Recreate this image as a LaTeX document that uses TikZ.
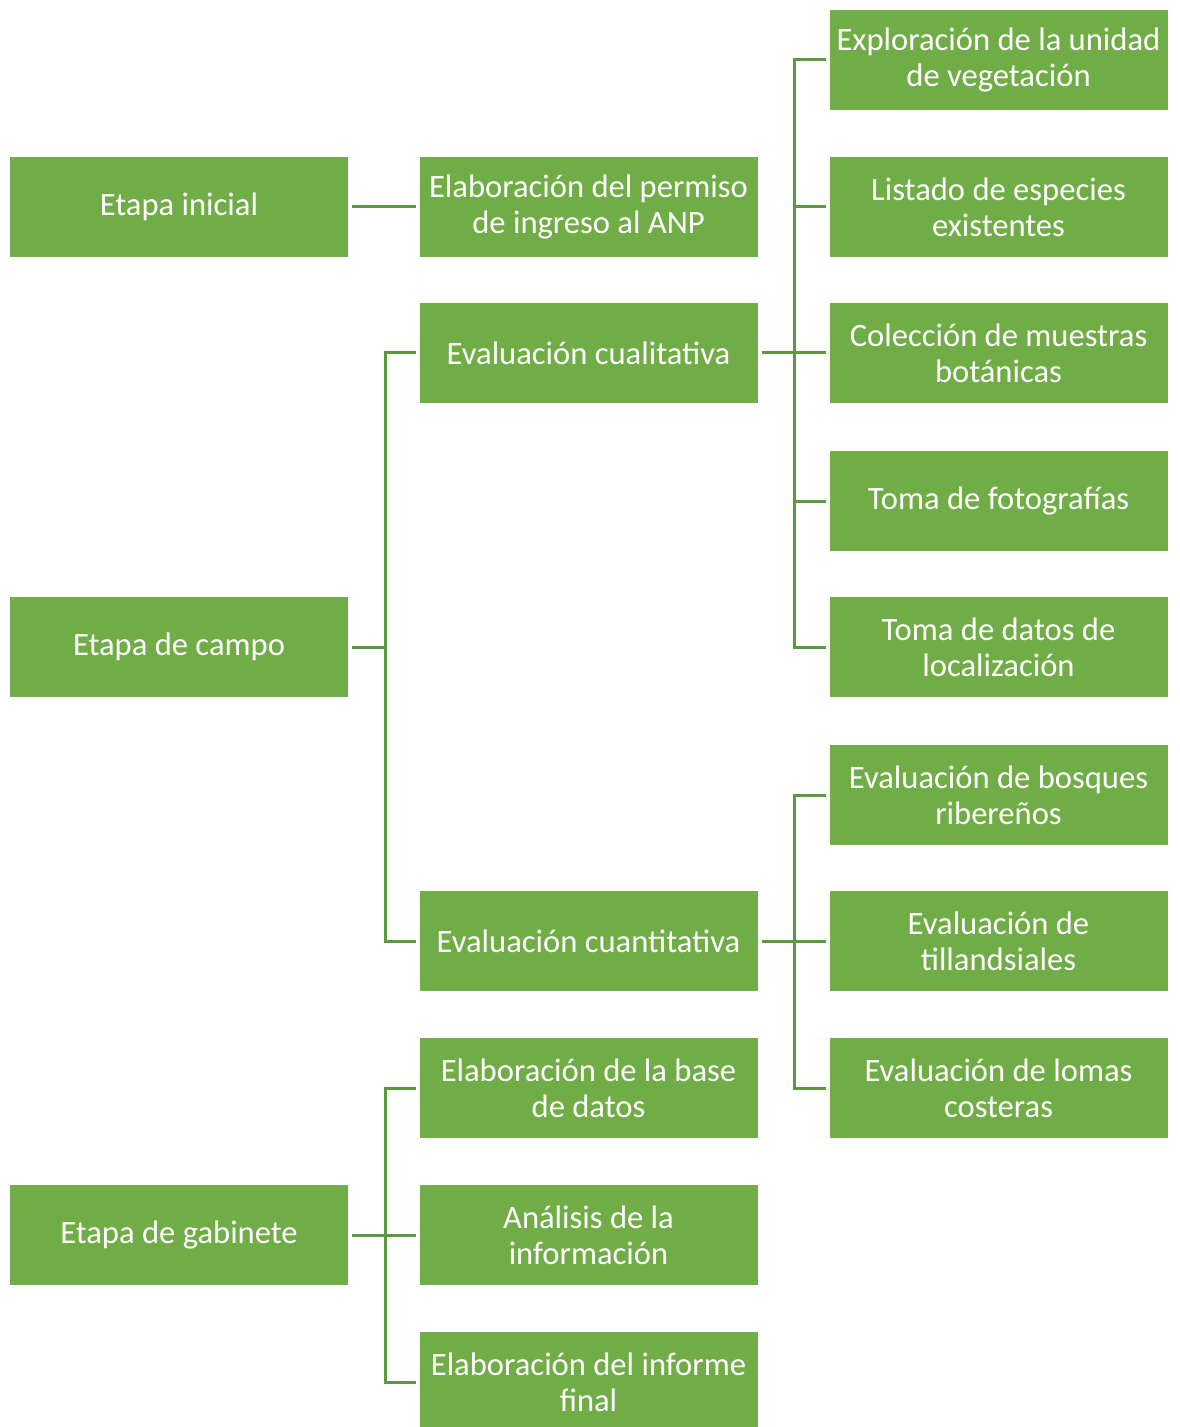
\documentclass[tikz,border=0pt]{standalone}
\usepackage{fontspec}
\setmainfont{Carlito}
\definecolor{boxgreen}{HTML}{70AD47}
\definecolor{linegreen}{HTML}{5A9A3C}
\begin{document}
\begin{tikzpicture}[x=0.5pt,y=-0.5pt,
  stage/.style={fill=boxgreen, text=white, minimum width=169pt, minimum height=50pt,
    inner sep=1pt, outer sep=2pt, align=center,
    font=\fontsize{16.3pt}{18pt}\selectfont},
  conn/.style={draw=linegreen, line width=1.5pt}]
\useasboundingbox (0,0) rectangle (1179,1427);

\node[stage] (inicial) at (179,207) {Etapa inicial};
\node[stage] (campo) at (179,647) {Etapa de campo};
\node[stage] (gabinete) at (179,1235) {Etapa de gabinete};

\node[stage] (permiso) at (588.5,207) {Elaboración del permiso\\de ingreso al ANP};
\node[stage] (cuali) at (588.5,353) {Evaluación cualitativa};
\node[stage] (cuanti) at (588.5,941) {Evaluación cuantitativa};
\node[stage] (base) at (588.5,1088) {Elaboración de la base\\de datos};
\node[stage] (analisis) at (588.5,1235) {Análisis de la\\información};
\node[stage] (informe) at (588.5,1382) {Elaboración del informe\\final};

\node[stage] (explora) at (998.5,60) {Exploración de la unidad\\de vegetación};
\node[stage] (listado) at (998.5,207) {Listado de especies\\existentes};
\node[stage] (coleccion) at (998.5,353) {Colección de muestras\\botánicas};
\node[stage] (fotos) at (998.5,501) {Toma de fotografías};
\node[stage] (datos) at (998.5,647) {Toma de datos de\\localización};
\node[stage] (bosques) at (998.5,795) {Evaluación de bosques\\ribereños};
\node[stage] (tillandsia) at (998.5,941) {Evaluación de\\tillandsiales};
\node[stage] (lomas) at (998.5,1088) {Evaluación de lomas\\costeras};

\path[conn] (inicial) -- (permiso);

\path[conn] (campo.east) -- ++(33,0) coordinate (j1);
\path[conn] (j1) |- (cuali.west);
\path[conn] (j1) |- (cuanti.west);

\path[conn] (gabinete.east) -- ++(33,0) coordinate (j2);
\path[conn] (j2) |- (base.west);
\path[conn] (j2) |- (analisis.west);
\path[conn] (j2) |- (informe.west);

\path[conn] (cuali.east) -- ++(33,0) coordinate (j3);
\path[conn] (j3) |- (explora.west);
\path[conn] (j3) |- (listado.west);
\path[conn] (j3) |- (coleccion.west);
\path[conn] (j3) |- (fotos.west);
\path[conn] (j3) |- (datos.west);

\path[conn] (cuanti.east) -- ++(33,0) coordinate (j4);
\path[conn] (j4) |- (bosques.west);
\path[conn] (j4) |- (tillandsia.west);
\path[conn] (j4) |- (lomas.west);
\end{tikzpicture}
\end{document}
